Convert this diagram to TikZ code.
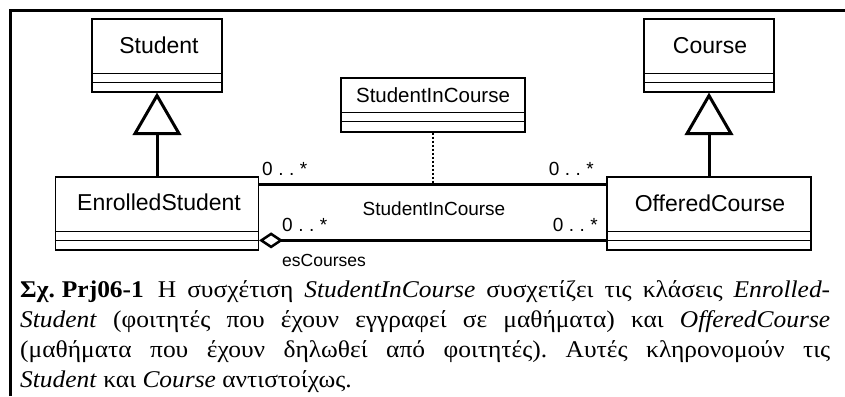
\documentclass[tikz,border=0pt]{standalone}
\usepackage{fontspec}
\setmainfont{Liberation Serif}
\setsansfont{Liberation Sans}
\newfontfamily\capfont{Liberation Serif}[FakeStretch=1.06]
\usetikzlibrary{arrows.meta}
\frenchspacing

\tikzset{
  cls/.style={draw, line width=1.2pt, fill=white, inner sep=0pt},
  divider/.style={line width=1.6pt},
  clsname/.style={font=\sffamily\fontsize{23}{27}\selectfont, inner sep=0pt, anchor=base},
  linkname/.style={font=\sffamily\fontsize{20.5}{24}\selectfont, inner sep=0pt, anchor=base},
  rolelbl/.style={font=\sffamily\fontsize{19}{22}\selectfont, inner sep=0pt},
  smalllbl/.style={font=\sffamily\fontsize{17.5}{20}\selectfont, inner sep=0pt},
  genline/.style={line width=3pt},
  gentri/.style={line width=3pt, fill=white, line join=miter},
  assoc/.style={line width=2.5pt},
  linkline/.style={line width=2pt, dash pattern=on 2pt off 2pt},
  captionline/.style={font=\capfont\fontsize{24}{30}\selectfont, inner sep=0pt, anchor=base west},
}

% multiplicity text with its wide dot spacing
\newcommand{\mult}{0\kern5.5pt.\kern5.5pt.\kern5.5pt*}

\begin{document}
\begin{tikzpicture}[x=1pt, y=-1pt]
\useasboundingbox (0,0) rectangle (845,396);

% frame
\draw[line width=3pt] (10,396) -- (10,10.8) -- (845,10.8);

% classes
\node[cls, minimum width=130pt, minimum height=73pt] (student)  at (157,55.5)  {};
\node[cls, minimum width=130pt, minimum height=73pt] (course)   at (709,55.5)  {};
\node[cls, minimum width=203pt, minimum height=73pt] (enrolled) at (157,213.5) {};
\node[cls, minimum width=204pt, minimum height=73pt] (offered)  at (709,213.5) {};
\node[cls, minimum width=184pt, minimum height=54pt] (link)     at (433,105)   {};

% compartments
\foreach \c in {student,course,enrolled,offered}{
  \draw[divider] ([yshift=-55pt]\c.north west) -- ([yshift=-55pt]\c.north east);
  \draw[divider] ([yshift=-64pt]\c.north west) -- ([yshift=-64pt]\c.north east);
}
\draw[divider] ([yshift=-35pt]link.north west) -- ([yshift=-35pt]link.north east);
\draw[divider] ([yshift=-44pt]link.north west) -- ([yshift=-44pt]link.north east);

% class names
\node[clsname] (studentname)  at (159,53)  {Student};
\node[clsname] (coursename)   at (710,53)  {Course};
\node[clsname] (enrolledname) at (159,210) {EnrolledStudent};
\node[clsname] (offeredname)  at (710,211) {OfferedCourse};
\node[linkname] (linkname)    at (433,102) {StudentInCourse};

% generalizations: shaft to the triangle base, then the hollow triangle
\draw[genline] (enrolled.north) -- ([yshift=-41pt]student.south);
\draw[gentri] ([yshift=-3pt]student.south) -- ++(-22,38) -- ++(44,0) -- cycle;
\draw[genline] (offered.north) -- ([yshift=-41pt]course.south);
\draw[gentri] ([yshift=-3pt]course.south) -- ++(-22,38) -- ++(44,0) -- cycle;

% associations
\coordinate (a1) at ([yshift=-8pt]enrolled.north east);
\coordinate (a2) at ([yshift=-8pt]offered.north west);
\draw[assoc] (a1) -- (a2);
\draw[assoc, {Diamond[open, length=24pt, width=16pt]}-]
  ([yshift=-64pt]enrolled.north east) -- ([yshift=-64pt]offered.north west);
\draw[linkline] (link.south) -- (link.south |- a1);

% association labels
\node[rolelbl, anchor=base west] (m1) at (262,175) {\mult};
\node[rolelbl, anchor=base east] (m2) at (594,175) {\mult};
\node[rolelbl, anchor=base west] (m3) at (282,231) {\mult};
\node[rolelbl, anchor=base east] (m4) at (598,231) {\mult};
\node[rolelbl, anchor=base] (assocname) at (434,215) {StudentInCourse};
\node[smalllbl, anchor=base west] (role) at (282,266) {esCourses};

% caption
\node[captionline] (cap1) at (20,297) {\makebox[810pt][s]{\hbox{\textbf{Σχ.\kern7pt Prj06-1}}\hspace{14pt}Η συσχέτιση \textit{StudentInCourse} συσχετίζει τις κλάσεις \textit{Enrolled-}}};
\node[captionline] (cap2) at (20,327) {\makebox[810pt][s]{\textit{Student} (φοιτητές που έχουν εγγραφεί σε μαθήματα) και \textit{OfferedCourse}}};
\node[captionline] (cap3) at (20,357) {\makebox[810pt][s]{(μαθήματα που έχουν δηλωθεί από φοιτητές). Αυτές κληρονομούν τις}};
\node[captionline] (cap4) at (20,387) {\textit{Student} και \textit{Course} αντιστοίχως.};
\end{tikzpicture}
\end{document}
